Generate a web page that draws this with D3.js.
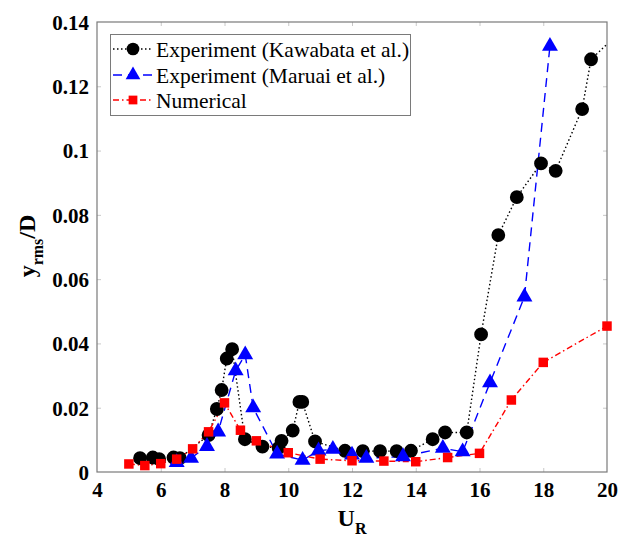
<!DOCTYPE html>
<html><head><meta charset="utf-8">
<script src="https://cdn.jsdelivr.net/npm/d3@7"></script>
<style>body{margin:0;background:#fff}svg{display:block}svg text{font-family:"Liberation Serif","Times New Roman",Times,serif}</style>
</head><body>
<script>
// Kawabata et al. (black circles, dotted)
const kawX = [5.35,5.75,5.95,6.4,6.6,7.5,7.76,7.91,8.07,8.24,8.64,9.19,9.7,9.79,10.14,10.35,10.44,10.84,11.78,12.34,12.88,13.4,13.85,14.53,14.92,15.6,16.05,16.59,17.17,17.93,18.39,19.22,19.5,20.4];
const kawY = [0.0043,0.0045,0.004,0.0045,0.0043,0.0115,0.0196,0.0255,0.0353,0.0382,0.0102,0.0079,0.0075,0.0097,0.0129,0.0218,0.0218,0.0095,0.0066,0.0065,0.0065,0.0065,0.0066,0.0102,0.0123,0.0123,0.0428,0.0737,0.0855,0.096,0.0937,0.1129,0.1284,0.1369];
// Maruai et al. (blue triangles, dashed)
const marX = [6.5,6.95,7.45,7.8,8.35,8.65,8.9,9.65,10.45,10.95,11.4,12.0,12.45,13.6,14.85,15.47,16.33,17.41,18.21];
const marY = [0.003,0.0043,0.008,0.0125,0.0315,0.0365,0.02,0.0056,0.0037,0.0066,0.0071,0.0053,0.0043,0.0048,0.0074,0.0063,0.0278,0.0545,0.1325];
// Numerical (red squares, dash-dot)
const numX = [5,5.5,6,6.5,7,7.5,8,8.5,9,10,11,12,13,14,15,16,17,18,20];
const numY = [0.0025,0.002,0.0026,0.004,0.0072,0.0125,0.0215,0.013,0.0097,0.006,0.004,0.0035,0.0034,0.0032,0.0045,0.0058,0.0224,0.0341,0.0454];
const xTicks = [4,6,8,10,12,14,16,18,20];
const yTicks = [0,0.02,0.04,0.06,0.08,0.1,0.12,0.14];
const legendLabels = ["Experiment (Kawabata et al.)","Experiment (Maruai et al.)","Numerical"];

const W=619,H=542, L=97,R=607,T=22,B=472;
const svg=d3.select("body").append("svg").attr("width",W).attr("height",H);
const x=d3.scaleLinear().domain([4,20]).range([L,R]);
const y=d3.scaleLinear().domain([0,0.14]).range([B,T]);
const axCol="#7a7a7a";

svg.append("defs").append("clipPath").attr("id","clip").append("rect")
  .attr("x",L).attr("y",T).attr("width",R-L).attr("height",B-T);

// axes
const gx=svg.append("g").attr("transform",`translate(0,${B})`)
  .call(d3.axisBottom(x).tickValues(xTicks).tickSize(-4).tickPadding(10).tickFormat(d3.format("d")));
const gy=svg.append("g").attr("transform",`translate(${L},0)`)
  .call(d3.axisLeft(y).tickValues(yTicks).tickSize(-4).tickPadding(8).tickFormat(d=>String(+d.toFixed(2))));
const gxt=svg.append("g").attr("transform",`translate(0,${T})`)
  .call(d3.axisTop(x).tickValues(xTicks).tickSize(-4).tickFormat(""));
const gyr=svg.append("g").attr("transform",`translate(${R},0)`)
  .call(d3.axisRight(y).tickValues(yTicks).tickSize(-4).tickFormat(""));
[gx,gy,gxt,gyr].forEach(g=>{
  g.attr("font-family",null).attr("font-size",null);
  g.select(".domain").remove();
  g.selectAll(".tick line").attr("stroke","#c8c8c8");
  g.selectAll(".tick text").attr("fill","#000").style("font-size","21px").style("font-weight","bold");
});
gx.selectAll(".tick line").filter(d=>d===4||d===20).remove();
gxt.selectAll(".tick line").filter(d=>d===4||d===20).remove();
gy.selectAll(".tick line").filter(d=>d===0||d===0.14).remove();
gyr.selectAll(".tick line").filter(d=>d===0||d===0.14).remove();
gy.selectAll(".tick text").attr("dy","0.35em");
svg.append("rect").attr("x",L).attr("y",T).attr("width",R-L).attr("height",B-T)
  .attr("fill","none").attr("stroke",axCol).attr("stroke-width",1.2);

// axis titles
const xt=svg.append("text").attr("x",352).attr("y",526).attr("text-anchor","middle")
  .style("font-size","24px").style("font-weight","bold");
xt.append("tspan").text("U");
xt.append("tspan").attr("dy",8).style("font-size","16px").text("R");
const yt=svg.append("text").attr("transform","translate(35,246) rotate(-90)").attr("text-anchor","middle")
  .style("font-size","24px").style("font-weight","bold");
yt.append("tspan").text("y");
yt.append("tspan").attr("dy",8).style("font-size","16px").text("rms");
yt.append("tspan").attr("dy",-8).text("/D");

const series=[
  {xs:kawX,ys:kawY,color:"#000",dash:"1.5,2.5",sym:d3.symbolCircle,size:150,lw:1.4},
  {xs:marX,ys:marY,color:"#0000ff",dash:"9,6",sym:d3.symbolTriangle,size:110,lw:1.4},
  {xs:numX,ys:numY,color:"#ff0000",dash:"6,3,1.5,3",sym:d3.symbolSquare,size:90,lw:1.4}
];
const line=d3.line().x(d=>x(d[0])).y(d=>y(d[1]));
series.forEach(s=>{
  const pts=s.xs.map((v,i)=>[v,s.ys[i]]);
  svg.append("path").datum(pts).attr("d",line).attr("fill","none")
    .attr("stroke",s.color).attr("stroke-width",s.lw).attr("stroke-dasharray",s.dash)
    .attr("clip-path","url(#clip)");
});
series.forEach(s=>{
  const pts=s.xs.map((v,i)=>[v,s.ys[i]]).filter(d=>d[0]<=20);
  svg.append("g").selectAll("path").data(pts).join("path")
    .attr("transform",d=>`translate(${x(d[0])},${y(d[1])})`)
    .attr("d",d3.symbol().type(s.sym).size(s.size)).attr("fill",s.color);
});

// legend
const lg=svg.append("g");
lg.append("rect").attr("x",110.5).attr("y",34.5).attr("width",300).attr("height",81)
  .attr("fill","#fff").attr("stroke",axCol).attr("stroke-width",1);
const rows=[49,75,100];
series.forEach((s,i)=>{
  lg.append("line").attr("x1",113).attr("x2",153).attr("y1",rows[i]).attr("y2",rows[i])
    .attr("stroke",s.color).attr("stroke-width",s.lw).attr("stroke-dasharray",s.dash);
  lg.append("path").attr("transform",`translate(133,${rows[i]})`)
    .attr("d",d3.symbol().type(s.sym).size(s.size*0.85)).attr("fill",s.color);
  lg.append("text").attr("x",156).attr("y",rows[i]).attr("dy","0.35em")
    .style("font-size","21.5px").text(legendLabels[i]);
});
</script>
</body></html>
